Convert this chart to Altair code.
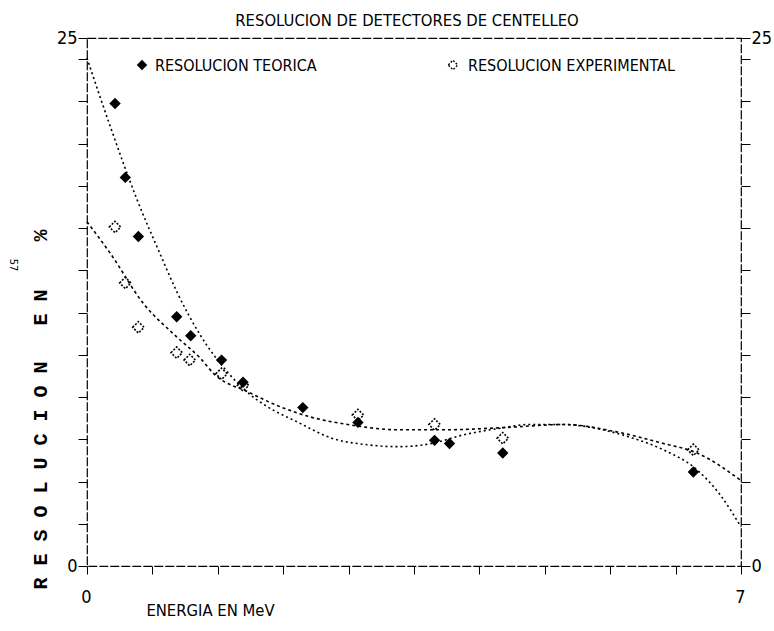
import altair as alt
import pandas as pd

# ---- data ----
series = ["RESOLUCION TEORICA", "RESOLUCION EXPERIMENTAL"]

teo_x = [0.30, 0.41, 0.55, 0.96, 1.11, 1.44, 1.67, 2.31, 2.90, 3.72, 3.88, 4.45, 6.49]
teo_y = [21.9, 18.4, 15.6, 11.8, 10.9, 9.75, 8.7, 7.5, 6.8, 5.95, 5.8, 5.35, 4.45]

exp_x = [0.30, 0.41, 0.55, 0.96, 1.10, 1.44, 1.67, 2.90, 3.72, 4.45, 6.49]
exp_y = [16.05, 13.4, 11.3, 10.1, 9.75, 9.1, 8.55, 7.15, 6.7, 6.05, 5.5]

fit_teo_x = [0.0, 0.25, 0.54, 0.78, 0.96, 1.21, 1.50, 1.75, 1.91, 2.26, 2.62, 2.98,
             3.33, 3.69, 4.02, 4.39, 4.74, 5.10, 5.52, 5.81, 6.17, 6.53, 6.78, 7.0]
fit_teo_y = [24.05, 20.8, 17.3, 14.8, 13.0, 10.95, 9.2, 8.1, 7.6, 6.8, 6.05, 5.75,
             5.65, 5.8, 6.2, 6.5, 6.7, 6.7, 6.45, 6.1, 5.5, 4.55, 3.35, 1.85]

fit_exp_x = [0.0, 0.25, 0.60, 0.96, 1.21, 1.37, 1.72, 2.09, 2.44, 2.79, 3.33, 3.83,
             4.45, 5.10, 5.67, 6.17, 6.53, 7.0]
fit_exp_y = [16.3, 14.8, 12.45, 10.85, 9.85, 9.05, 8.25, 7.5, 7.0, 6.7, 6.45, 6.45,
             6.55, 6.7, 6.35, 5.8, 5.35, 4.05]

x_ticks = [0, 0.7, 1.4, 2.1, 2.8, 3.5, 4.2, 4.9, 5.6, 6.3, 7.0]
x_labeled = [0, 7]
y_ticks = [0, 2, 4, 6, 8, 10, 12, 14, 16, 18, 20, 22, 24, 25]
y_labeled = [0, 25]

teo = pd.DataFrame({"x": teo_x, "y": teo_y})
exp = pd.DataFrame({"x": exp_x, "y": exp_y})
fteo = pd.DataFrame({"x": fit_teo_x, "y": fit_teo_y})
fexp = pd.DataFrame({"x": fit_exp_x, "y": fit_exp_y})

FONT = "Liberation Sans Narrow, DejaVu Sans Condensed, sans-serif"
MONO = "Liberation Mono, DejaVu Sans Mono, monospace"
NB = "\u00a0"
y_title = NB.join("RESOLUCION") + NB * 3 + NB.join("EN") + NB * 4 + "%"

xs = alt.Scale(domain=[0, 7], nice=False, zero=False)
ys = alt.Scale(domain=[0, 25], nice=False, zero=False)

x_lab_expr = "(" + " || ".join(f"abs(datum.value - {v}) < 0.001" for v in x_labeled) + ") ? format(datum.value, 'd') : ''"
y_lab_expr = "(" + " || ".join(f"datum.value == {v}" for v in y_labeled) + ") ? datum.label : ''"

x_axis = alt.Axis(values=x_ticks, labelExpr=x_lab_expr, title="ENERGIA EN MeV",
                  grid=False, domain=False, tickColor="black", tickSize=8,
                  labelPadding=14, labelFont=FONT, labelFontSize=18, labelColor="black",
                  labelAlign="center", labelOffset=-1,
                  titleFont=FONT, titleFontSize=16.5, titleFontWeight="normal", titleColor="black",
                  titleX=123, titleY=44, titleBaseline="middle", titleAlign="center")

def y_axis(orient):
    return alt.Axis(orient=orient, values=y_ticks, labelExpr=y_lab_expr,
                    title=(y_title if orient == "left" else None),
                    grid=False, domain=False, tickColor="black", tickSize=9,
                    labelPadding=1, labelFont=FONT, labelFontSize=18, labelColor="black",
                    labelBaseline="middle",
                    titleFont=MONO, titleFontSize=20,
                    titleFontWeight="bold", titleColor="black", titleAngle=270,
                    titleX=-47, titleY=371, titleBaseline="middle", titleAlign="center")

X = alt.X("x:Q", scale=xs, axis=x_axis)

line_teo = alt.Chart(fteo).mark_line(color="black", strokeWidth=1.6, strokeDash=[2, 3],
                                     interpolate="monotone").encode(
    x=X, y=alt.Y("y:Q", scale=ys, axis=y_axis("left")))
line_exp = alt.Chart(fexp).mark_line(color="black", strokeWidth=1.6, strokeDash=[3, 3],
                                     interpolate="monotone").encode(
    x=X, y=alt.Y("y:Q", scale=ys, axis=y_axis("right")))

pts_teo = alt.Chart(teo).mark_point(shape="diamond", filled=True, color="black", size=130, opacity=1).encode(
    x=X, y=alt.Y("y:Q", scale=ys, axis=None))
pts_exp = alt.Chart(exp).mark_point(shape="diamond", filled=False, color="black", size=130,
                                    strokeWidth=1.6, strokeDash=[2, 1.5], opacity=1).encode(
    x=X, y=alt.Y("y:Q", scale=ys, axis=None))

leg = pd.DataFrame({"label": series})
leg_sym_teo = alt.Chart(leg.iloc[[0]]).mark_point(shape="diamond", filled=True, color="black", size=110, opacity=1).encode(
    x=alt.value(55), y=alt.value(27))
leg_sym_exp = alt.Chart(leg.iloc[[1]]).mark_point(shape="diamond", filled=False, color="black", size=90,
                                                 strokeDash=[2, 1.5], strokeWidth=1.4, opacity=1).encode(
    x=alt.value(366), y=alt.value(27))
leg_txt_teo = alt.Chart(leg.iloc[[0]]).mark_text(align="left", baseline="middle", font=FONT, fontSize=16, color="black").encode(
    x=alt.value(68), y=alt.value(28), text="label:N")
leg_txt_exp = alt.Chart(leg.iloc[[1]]).mark_text(align="left", baseline="middle", font=FONT, fontSize=16, color="black").encode(
    x=alt.value(381), y=alt.value(28), text="label:N")

page = alt.Chart(pd.DataFrame({"t": ["57"]})).mark_text(angle=90, font=FONT, fontSize=11, color="black").encode(
    x=alt.value(-74), y=alt.value(227), text="t:N")

chart = alt.layer(line_teo, line_exp, pts_teo, pts_exp,
                  leg_sym_teo, leg_sym_exp, leg_txt_teo, leg_txt_exp, page).resolve_axis(
    y="independent"
).properties(
    width=654, height=528,
    padding={"left": 87, "top": 38, "right": 33, "bottom": 65},
    autosize=alt.AutoSizeParams(type="none"),
    background="white",
    title=alt.TitleParams("RESOLUCION DE DETECTORES DE CENTELLEO", font=FONT, fontSize=16.5,
                          fontWeight="normal", color="black", anchor="middle", offset=0, dx=-7),
).configure_view(stroke="black", strokeWidth=1.2, strokeDash=[9, 2])

chart.save("out.html", embed_options={"renderer": "svg", "actions": False})
